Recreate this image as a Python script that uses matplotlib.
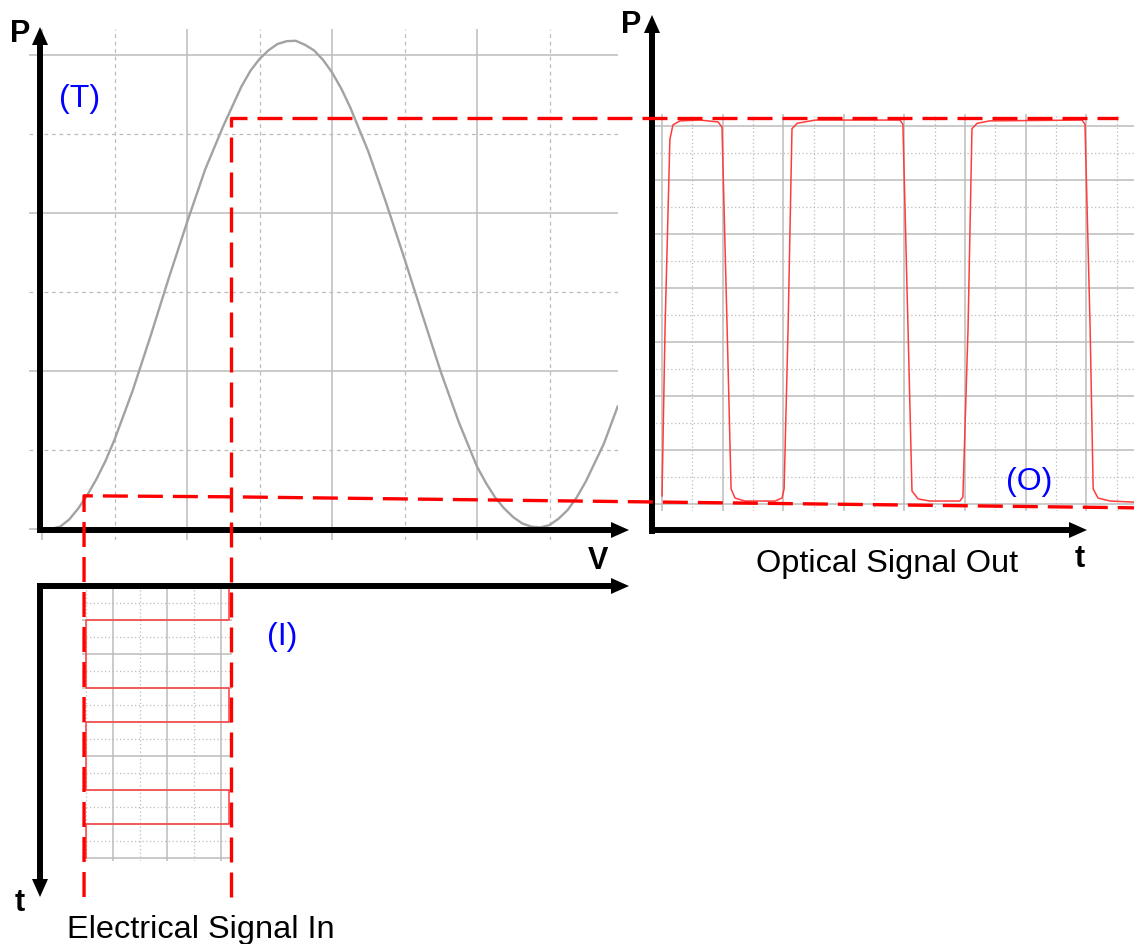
import matplotlib
matplotlib.use("Agg")
import matplotlib.pyplot as plt
from matplotlib.patches import Polygon

W, H = 1134, 945

# (T) modulator transfer curve, in grid divisions (V across, P up)
transfer_v = [0.12, 0.25, 0.375, 0.5, 0.625, 0.75, 0.875, 1.0, 1.25, 1.5, 1.75, 2.0,
              2.25, 2.5, 2.75, 2.875, 3.0, 3.125, 3.25, 3.375, 3.5, 3.625, 3.75,
              3.875, 4.0, 4.125, 4.25, 4.5, 4.75, 5.0, 5.25, 5.5, 5.75, 6.0, 6.125,
              6.25, 6.375, 6.5, 6.625, 6.75, 6.875, 7.0, 7.125, 7.25, 7.375, 7.5,
              7.75, 7.94]
transfer_p = [0.0, 0.03, 0.12, 0.26, 0.43, 0.63, 0.86, 1.13, 1.75, 2.45, 3.18, 3.88,
              4.55, 5.1, 5.6, 5.8, 5.95, 6.06, 6.14, 6.175, 6.18, 6.13, 6.06,
              5.94, 5.78, 5.58, 5.34, 4.78, 4.12, 3.42, 2.70, 1.99, 1.35, 0.79, 0.58,
              0.40, 0.26, 0.15, 0.07, 0.03, 0.02, 0.05, 0.13, 0.24, 0.40, 0.60,
              1.08, 1.55]

# (I) electrical drive: level holds between these times (grid rows, time runs down)
input_t = [0, 2, 6, 8, 12, 14, 16]
input_v = [5.3, 0.0, 5.3, 0.0, 5.3, 0.0]

# (O) optical output trace, grid divisions
output_t = [0.0, 0.10, 0.26, 0.36, 0.59, 1.25, 1.85, 1.98, 2.15, 2.28, 2.41, 2.74,
            3.73, 3.96, 4.03, 4.16, 4.29, 4.46, 5.05, 7.85, 7.95, 8.12, 8.25, 8.45,
            8.84, 9.83, 9.93, 10.10, 10.23, 10.40, 10.82, 13.86, 13.96, 14.13, 14.23,
            14.39, 14.79, 15.58]
output_p = [0.30, 6.48, 13.5, 14.04, 14.19, 14.22, 14.15, 13.96, 6.48, 0.56, 0.22, 0.11,
            0.11, 0.22, 0.56, 6.48, 13.9, 14.1, 14.22, 14.22, 14.07, 6.48, 0.48, 0.19,
            0.11, 0.11, 0.26, 6.48, 13.9, 14.1, 14.19, 14.22, 14.07, 6.48, 0.56,
            0.22, 0.11, 0.07]

# operating points on the transfer curve (T units)
v_low, v_high = 0.58, 2.6
p_low, p_high = 0.42, 5.2

RED = "#ff0000"
TRACE = "#ff3c3c"
GRID = "#bcbcbc"
BLUE = "#0000ff"
FONT = "Liberation Sans"


def px_axes(fig, x0, y0, x1, y1):
    ax = fig.add_axes([x0 / W, 1 - y1 / H, (x1 - x0) / W, (y1 - y0) / H])
    ax.set_axis_off()
    return ax


def grid_line(ax, vertical, pos, solid, dash):
    style = "-" if solid else dash
    lw = 1.1 if solid else 0.9
    if vertical:
        ax.axvline(pos, color=GRID, lw=lw, ls=style, zorder=1)
    else:
        ax.axhline(pos, color=GRID, lw=lw, ls=style, zorder=1)


def axis_arrow(ax, start, tip, head=18, half=8, lw=4.3):
    (xa, ya), (xb, yb) = start, tip
    length = ((xb - xa) ** 2 + (yb - ya) ** 2) ** 0.5
    ux, uy = (xb - xa) / length, (yb - ya) / length
    bx, by = xb - ux * head, yb - uy * head
    ax.plot([xa, bx + ux], [ya, by + uy], color="k", lw=lw, solid_capstyle="butt")
    ax.add_patch(Polygon([(xb, yb), (bx - uy * half, by + ux * half),
                          (bx + uy * half, by - ux * half)],
                         closed=True, color="k", lw=0))


def main() -> None:
    fig = plt.figure(figsize=(W / 100, H / 100), dpi=100)
    fig.patch.set_facecolor("white")

    # transfer function panel
    ax_t = px_axes(fig, 29, 30, 618, 541)
    ax_t.set_xlim((29 - 42) / 72.5, (618 - 42) / 72.5)
    ax_t.set_ylim((530 - 541) / 79, (530 - 30) / 79)
    for i in range(8):
        grid_line(ax_t, True, i, i % 2 == 0, (0, (3, 3)))
    for j in range(7):
        grid_line(ax_t, False, j, j % 2 == 0, (0, (3, 3)))
    ax_t.plot(transfer_v, transfer_p, color="#a2a2a2", lw=1.7, zorder=3,
              solid_joinstyle="round")

    # optical output panel
    ax_out = px_axes(fig, 652, 115, 1134, 512)
    ax_out.set_xlim((652 - 662) / 30.3, (1134 - 662) / 30.3)
    ax_out.set_ylim((505 - 512) / 27, (505 - 115) / 27)
    for i in range(16):
        grid_line(ax_out, True, i, i % 2 == 0, (0, (1, 2)))
    for j in range(15):
        grid_line(ax_out, False, j, j % 2 == 0, (0, (1, 2)))
    ax_out.plot(output_t, output_p, color=TRACE, lw=1.1, zorder=3,
                solid_joinstyle="round")

    # electrical input panel (time runs downwards)
    ax_in = px_axes(fig, 82, 587, 232, 862)
    ax_in.set_xlim((82 - 86) / 27, (232 - 86) / 27)
    ax_in.set_ylim((862 - 587) / 17, 0)
    for i in range(6):
        grid_line(ax_in, True, i, i % 2 == 1, (0, (1, 2)))
    for j in range(17):
        grid_line(ax_in, False, j, j % 2 == 0, (0, (1, 2)))
    xs, ys = [], []
    for k, v in enumerate(input_v):
        xs += [v, v]
        ys += [input_t[k], input_t[k + 1]]
    ax_in.plot(xs, ys, color=TRACE, lw=1.1, zorder=3)

    # overlay in figure pixels for axes arrows, guides and labels
    ax_o = fig.add_axes([0, 0, 1, 1])
    ax_o.set_xlim(0, W)
    ax_o.set_ylim(H, 0)
    ax_o.set_axis_off()

    def to_px(ax, x, y):
        dx, dy = ax.transData.transform((x, y))
        return dx, H - dy

    xl, yl = to_px(ax_t, v_low, p_low)
    xh, yh = to_px(ax_t, v_high, p_high)
    guide_bottom, guide_right, top_end = 898, 1134, 1118
    ax_o.plot([xl, xl, xh, guide_right], [guide_bottom, yl, yl + 1, yl + 12],
              color=RED, lw=2.4, dashes=(7.5, 3), zorder=5)
    ax_o.plot([xh, xh, top_end], [guide_bottom, yh, yh],
              color=RED, lw=2.4, dashes=(7.5, 3), zorder=5)

    axis_arrow(ax_o, (40, 534), (40, 28))
    axis_arrow(ax_o, (37, 531), (629, 531))
    axis_arrow(ax_o, (37, 587), (629, 587))
    axis_arrow(ax_o, (40, 584), (40, 898))
    axis_arrow(ax_o, (652, 535), (652, 16))
    axis_arrow(ax_o, (649, 531), (1087, 531))

    bold = dict(ha="center", va="baseline", fontsize=22, fontweight="bold",
                color="black", family=FONT)
    ax_o.text(20, 42, "P", **bold)
    ax_o.text(598, 569, "V", **bold)
    ax_o.text(631, 33, "P", **bold)
    ax_o.text(1080, 567, "t", **bold)
    ax_o.text(20, 911, "t", **bold)

    blue = dict(ha="center", va="baseline", fontsize=23, color=BLUE, family=FONT)
    ax_o.text(80, 107, "(T)", **blue)
    ax_o.text(1029, 490, "(O)", **blue)
    ax_o.text(282, 645, "(I)", **blue)

    plain = dict(ha="center", va="baseline", fontsize=23.4, color="black", family=FONT)
    ax_o.text(887, 572, "Optical Signal Out", **plain)
    ax_o.text(201, 938, "Electrical Signal In", **plain)

    fig.savefig("out.png", dpi=100)
    plt.close(fig)


if __name__ == "__main__":
    main()
